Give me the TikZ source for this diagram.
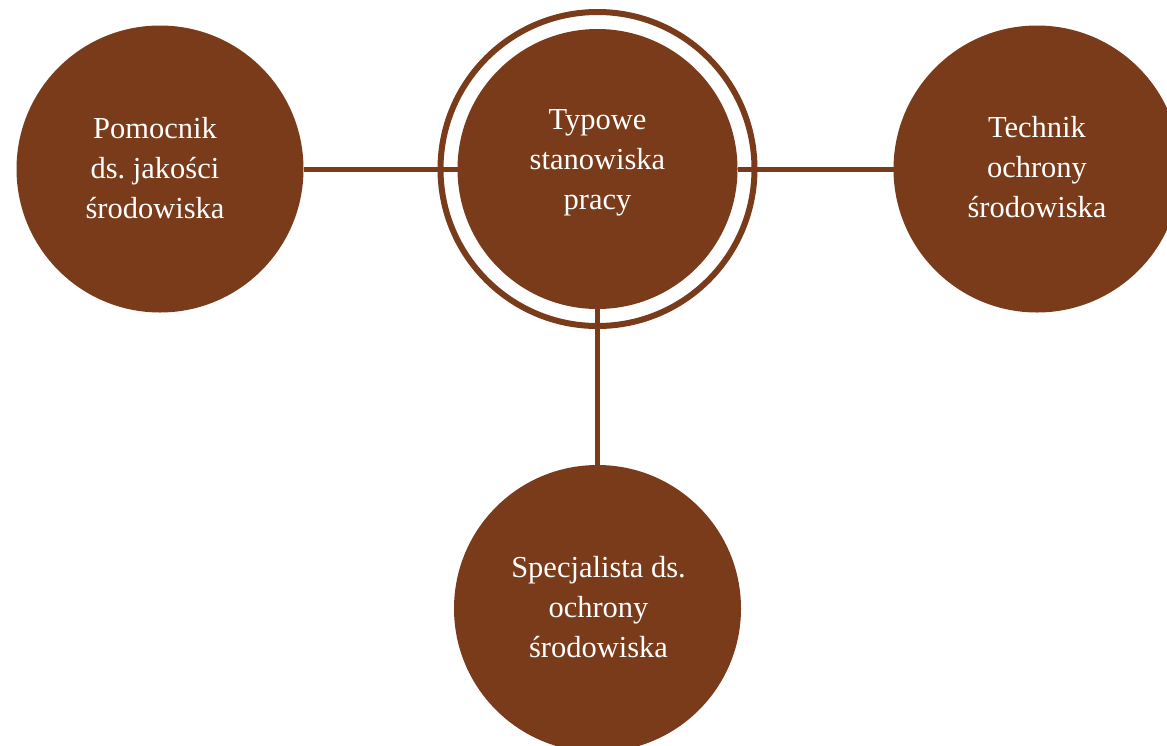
\documentclass[tikz,border=0pt]{standalone}
\usepackage{fontspec}
\setmainfont{Liberation Serif}
\frenchspacing
\definecolor{bubbrown}{RGB}{122,59,27}
\begin{document}
\begin{tikzpicture}[x=1pt,y=-1pt,
  bub/.style={circle,fill=bubbrown,minimum size=287pt,inner sep=0pt,outer sep=0pt},
  ringstyle/.style={circle,draw=bubbrown,line width=6pt,minimum size=314pt,inner sep=0pt,outer sep=0pt},
  lbl/.style={text=white,align=center,font=\fontsize{30.5}{40}\selectfont,inner sep=0pt},
  conn/.style={draw=bubbrown,line width=5pt}]
\useasboundingbox (0,0) rectangle (1167,745);
% circles
\node[bub] (L) at (160,169) {};
\node[bub] (R) at (1037,169) {};
\node[bub] (B) at (597.5,608.5) {};
\node[bub,minimum size=280pt] (C) at (597.5,169) {};
\node[ringstyle] (Cring) at (597.5,169) {};
% connectors
\draw[conn] (L) -- (C);
\draw[conn] (C) -- (R);
\draw[conn] (C) -- (B);
% labels
\node[lbl] (Lt) at (155,168) {Pomocnik\\ds. jakości\\środowiska};
\node[lbl] (Ct) at (597.5,163) {Typowe\\stanowiska\\pracy};
\node[lbl] (Rt) at (1037,167) {Technik\\ochrony\\środowiska};
\node[lbl] (Bt) at (598.5,607) {Specjalista ds.\\ochrony\\środowiska};
\end{tikzpicture}
\end{document}
